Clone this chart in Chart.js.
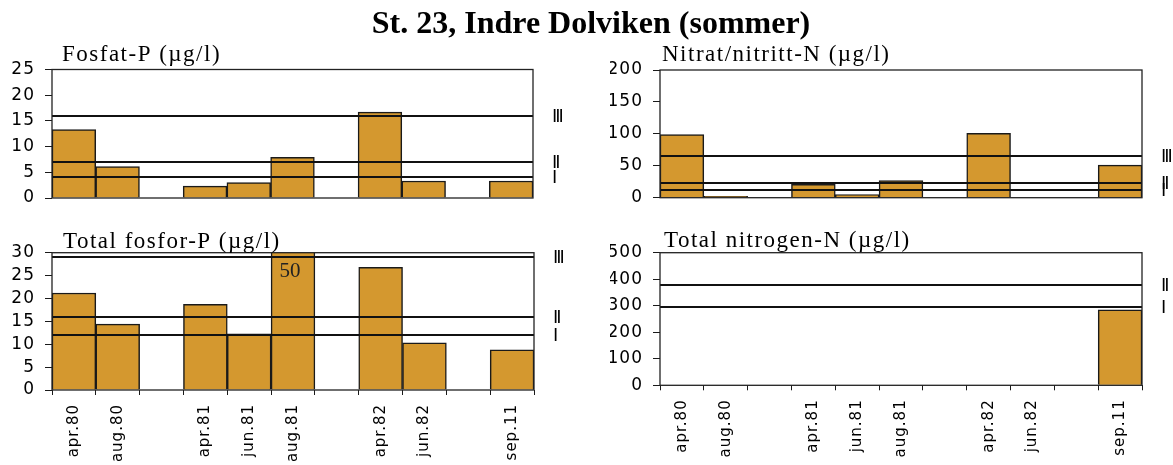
<!DOCTYPE html>
<html>
<head>
<meta charset="utf-8">
<script src="https://cdn.jsdelivr.net/npm/chart.js@4.4.1/dist/chart.umd.min.js"></script>
<style>
  html, body { margin: 0; padding: 0; background: #fff; }
  #wrap { position: relative; width: 1173px; height: 465px; overflow: hidden; }
  #wrap canvas { position: absolute; left: 0; top: 0; }
</style>
</head>
<body>
<div id="wrap">
  <canvas id="c1" width="1173" height="465"></canvas>
  <canvas id="c2" width="1173" height="465"></canvas>
  <canvas id="c3" width="1173" height="465"></canvas>
  <canvas id="c4" width="1173" height="465"></canvas>
</div>
<script>
// data
const categories = ['apr.80', 'aug.80', '', 'apr.81', 'jun.81', 'aug.81', '', 'apr.82', 'jun.82', '', 'sep.11'];
const fosfat   = [13.3, 6.1, null, 2.3, 3.0, 7.9, null, 16.7, 3.3, null, 3.3];
const nitrat   = [99, 2, null, 21, 5, 27, null, 101, null, null, 51];
const totFosfor = [21.2, 14.4, null, 18.7, 12.3, 50, null, 26.8, 10.3, null, 8.8];
const totNitrogen = [null, null, null, null, null, null, null, null, null, null, 285];

// class limits (lines) and their roman labels
const fosfatLines = [16, 7, 4];
const nitratLines = [65, 23, 12];
const totFosforLines = [29, 16, 12];
const totNitrogenLines = [380, 295];
const classLabels3 = ['III', 'II', 'I'];
const classLabels2 = ['II', 'I'];

const W = 1173, H = 465;
const barColor = '#D4982F';
const ink = '#1a1a1a';
const tickFont = '"DejaVu Sans", Verdana, sans-serif';

const decor = {
  id: 'decor',
  beforeLayout(chart) { chart.ctx.letterSpacing = '1px'; },
  beforeDraw(chart) { chart.ctx.letterSpacing = '1px'; },
  afterDatasetsDraw(chart, args, o) {
    const ctx = chart.ctx, a = chart.chartArea, y = chart.scales.y, x = chart.scales.x;
    ctx.save();
    ctx.letterSpacing = '0px';
    // class limit lines
    ctx.strokeStyle = '#111';
    ctx.lineWidth = 2;
    o.lines.forEach((v, i) => {
      const py = Math.round(y.getPixelForValue(v));
      ctx.beginPath();
      ctx.moveTo(a.left, py);
      ctx.lineTo(a.right, py);
      ctx.stroke();
      ctx.save();
      ctx.fillStyle = '#000';
      ctx.font = 'bold 19px "Liberation Sans", Arial, sans-serif';
      ctx.textAlign = 'left';
      ctx.textBaseline = 'alphabetic';
      ctx.translate(a.right + 20, py + 5.5);
      ctx.scale(0.62, 1);
      ctx.fillText(o.labels[i], 0, 0);
      ctx.restore();
    });
    // values above the axis max
    const data = chart.data.datasets[0].data;
    ctx.fillStyle = '#222';
    ctx.font = '21px "Liberation Serif", "Times New Roman", serif';
    ctx.textAlign = 'center';
    data.forEach((v, i) => {
      if (v != null && v > y.max) {
        ctx.fillText(String(v), x.getPixelForValue(i) - 3, a.top + 24);
      }
    });
    // frame
    ctx.strokeStyle = '#222';
    ctx.lineWidth = 1.3;
    ctx.strokeRect(a.left, a.top, a.right - a.left, a.bottom - a.top);
    ctx.restore();
  },
  afterDraw(chart, args, o) {
    const ctx = chart.ctx;
    ctx.save();
    ctx.fillStyle = '#000';
    ctx.textAlign = 'left';
    ctx.textBaseline = 'alphabetic';
    ctx.letterSpacing = '1.5px';
    ctx.font = '23px "Liberation Serif", "Times New Roman", serif';
    ctx.fillText(o.title, o.titleX, o.titleY);
    if (o.mainTitle) {
      ctx.letterSpacing = '0px';
      ctx.textAlign = 'center';
      ctx.font = 'bold 32px "Liberation Serif", "Times New Roman", serif';
      ctx.fillText(o.mainTitle, 591, 33);
    }
    ctx.restore();
  }
};

function makePanel(id, p) {
  const yWidth = 50;
  const xHeight = p.showX ? 72 : 0;
  const xScale = p.showX ? {
    offset: true,
    border: { display: false },
    grid: { display: true, drawOnChartArea: false, drawTicks: true, tickLength: 5, color: ink, offset: true },
    ticks: {
      autoSkip: false, minRotation: 90, maxRotation: 90, padding: 9, color: '#000',
      font: { family: tickFont, size: 15 }
    },
    afterFit(s) { s.height = xHeight; }
  } : { display: false, offset: true };

  new Chart(document.getElementById(id), {
    type: 'bar',
    data: {
      labels: categories,
      datasets: [{
        data: p.values,
        backgroundColor: barColor,
        borderColor: ink,
        borderWidth: 1.5,
        barPercentage: 1,
        categoryPercentage: 1
      }]
    },
    options: {
      responsive: false,
      animation: false,
      devicePixelRatio: 1,
      layout: {
        padding: {
          left: p.area.left - yWidth,
          top: p.area.top,
          right: W - p.area.right,
          bottom: H - p.area.bottom - xHeight
        }
      },
      plugins: {
        legend: { display: false },
        tooltip: { enabled: false },
        decor: {
          lines: p.lines, labels: p.labels, title: p.title,
          titleX: p.titleX, titleY: p.titleY, mainTitle: p.mainTitle
        }
      },
      scales: {
        x: xScale,
        y: {
          min: 0, max: p.max,
          border: { display: false },
          grid: { drawOnChartArea: false, drawTicks: true, tickLength: 7, color: ink },
          ticks: {
            stepSize: p.step, autoSkip: false, padding: 10, color: '#000',
            font: { family: tickFont, size: 17 }
          },
          afterFit(s) { s.width = yWidth; }
        }
      }
    },
    plugins: [decor]
  });
}

makePanel('c1', {
  values: fosfat, max: 25, step: 5, lines: fosfatLines, labels: classLabels3,
  area: { left: 52, top: 69.5, right: 533, bottom: 198 }, showX: false,
  title: 'Fosfat-P (µg/l)', titleX: 62, titleY: 61,
  mainTitle: 'St. 23, Indre Dolviken (sommer)'
});
makePanel('c2', {
  values: nitrat, max: 200, step: 50, lines: nitratLines, labels: classLabels3,
  area: { left: 660, top: 70, right: 1142, bottom: 197.7 }, showX: false,
  title: 'Nitrat/nitritt-N (µg/l)', titleX: 662, titleY: 61
});
makePanel('c3', {
  values: totFosfor, max: 30, step: 5, lines: totFosforLines, labels: classLabels3,
  area: { left: 52, top: 252.7, right: 534, bottom: 390 }, showX: true,
  title: 'Total fosfor-P (µg/l)', titleX: 63, titleY: 248
});
makePanel('c4', {
  values: totNitrogen, max: 500, step: 100, lines: totNitrogenLines, labels: classLabels2,
  area: { left: 660, top: 252.7, right: 1142, bottom: 385.3 }, showX: true,
  title: 'Total nitrogen-N (µg/l)', titleX: 664, titleY: 247
});
</script>
</body>
</html>
